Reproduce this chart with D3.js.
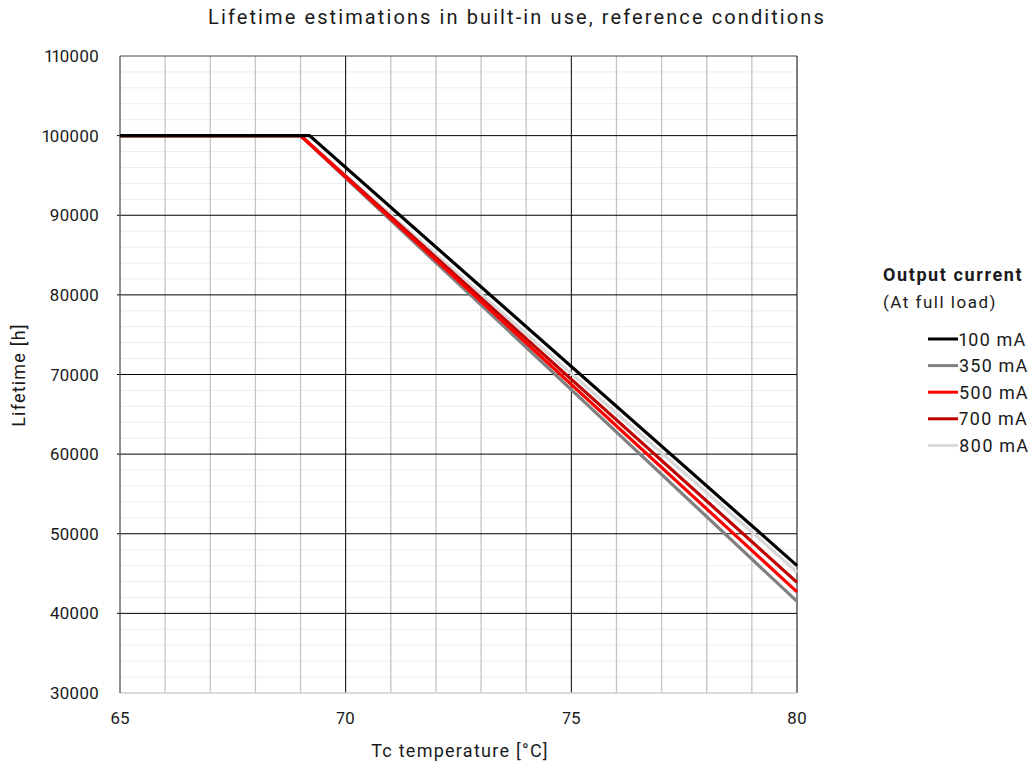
<!DOCTYPE html>
<html><head><meta charset="utf-8">
<script src="https://cdn.jsdelivr.net/npm/d3@7"></script>
<style>body{margin:0;background:#fff;} text{font-family:Roboto,"Noto Sans",sans-serif;fill:#1a1a1a;font-variant-numeric:proportional-nums;}</style>
</head><body><svg id="c" width="1035" height="769"></svg>
<script>
const seriesNames = ["800 mA","350 mA","700 mA","500 mA","100 mA"];
const seriesColors = ["#d9d9d9","#808080","#c00000","#ff0000","#000000"];
const seriesTemps = [[65,69.0,80],[65,69.0,80],[65,69.0,80],[65,69.0,80],[65,69.2,80]];
const seriesLife = [[100000,100000,45200],[100000,100000,41500],[100000,100000,43900],[100000,100000,42700],[100000,100000,46000]];
const legendOrder = ["100 mA","350 mA","500 mA","700 mA","800 mA"];
const xTicks = [65,70,75,80];
const yTicks = [30000,40000,50000,60000,70000,80000,90000,100000,110000];

const svg = d3.select("#c");
const x = d3.scaleLinear().domain([65,80]).range([120,797]);
const y = d3.scaleLinear().domain([30000,110000]).range([693,56]);

// minor horizontal grid
svg.append("g").selectAll("line").data(d3.range(30000,110001,2000).filter(v=>v%10000)).join("line")
  .attr("x1",x(65)).attr("x2",x(80)).attr("y1",d=>y(d)).attr("y2",d=>y(d))
  .attr("stroke","#ececec").attr("stroke-width",1);
// minor vertical grid
svg.append("g").selectAll("line").data(d3.range(66,80).filter(v=>v%5)).join("line")
  .attr("x1",d=>x(d)).attr("x2",d=>x(d)).attr("y1",y(30000)).attr("y2",y(110000))
  .attr("stroke","#c4c4c4").attr("stroke-width",1.3);
// major horizontal
svg.append("g").selectAll("line").data(yTicks.filter(v=>v>30000 && v<110000)).join("line")
  .attr("x1",x(65)-3).attr("x2",x(80)).attr("y1",d=>y(d)).attr("y2",d=>y(d))
  .attr("stroke","#000").attr("stroke-width",1);
// major vertical
svg.append("g").selectAll("line").data([70,75]).join("line")
  .attr("x1",d=>x(d)).attr("x2",d=>x(d)).attr("y1",y(30000)).attr("y2",y(110000))
  .attr("stroke","#000").attr("stroke-width",1);
// frame
svg.append("line").attr("x1",x(65)).attr("x2",x(80)).attr("y1",y(110000)).attr("y2",y(110000)).attr("stroke","#444").attr("stroke-width",1);
svg.append("line").attr("x1",x(80)).attr("x2",x(80)).attr("y1",y(30000)).attr("y2",y(110000)).attr("stroke","#000").attr("stroke-width",1);
svg.append("line").attr("x1",x(65)).attr("x2",x(80)).attr("y1",y(30000)).attr("y2",y(30000)).attr("stroke","#cfcfcf").attr("stroke-width",1.3);
svg.append("line").attr("x1",x(65)).attr("x2",x(65)).attr("y1",y(30000)).attr("y2",y(110000)).attr("stroke","#555").attr("stroke-width",1.3);

// lines
const line = d3.line().x(d=>x(d[0])).y(d=>y(d[1]));
seriesNames.forEach((n,i)=>{
  const pts = seriesTemps[i].map((t,j)=>[t,seriesLife[i][j]]);
  svg.append("path").attr("d",line(pts)).attr("fill","none")
    .attr("stroke",seriesColors[i]).attr("stroke-width",3.2);
});

// axes labels
svg.append("g").selectAll("text").data(yTicks).join("text")
  .attr("x",99).attr("y",d=>y(d)+6).attr("text-anchor","end").attr("font-size",17).text(d=>d);
svg.append("g").selectAll("text").data(xTicks).join("text")
  .attr("x",d=>x(d)).attr("y",724).attr("text-anchor","middle").attr("font-size",17).text(d=>d);
svg.append("text").attr("x",460).attr("y",757).attr("text-anchor","middle").attr("font-size",18).attr("letter-spacing",1.25).text("Tc temperature [°C]");
svg.append("text").attr("transform","translate(25,375) rotate(-90)").attr("text-anchor","middle").attr("font-size",18).attr("letter-spacing",1.2).text("Lifetime [h]");
svg.append("text").attr("x",517).attr("y",24).attr("text-anchor","middle").attr("font-size",20).attr("letter-spacing",2.1).text("Lifetime estimations in built-in use, reference conditions");

// legend
svg.append("text").attr("x",883).attr("y",281).attr("font-size",18).attr("font-weight","bold").attr("letter-spacing",1.6).text("Output current");
svg.append("text").attr("x",883).attr("y",308).attr("font-size",17).attr("letter-spacing",1.5).text("(At full load)");
legendOrder.forEach((n,k)=>{
  const i = seriesNames.indexOf(n);
  const yy = 339 + k*26.6;
  svg.append("line").attr("x1",928).attr("x2",958).attr("y1",yy).attr("y2",yy)
    .attr("stroke",seriesColors[i]).attr("stroke-width",3);
  svg.append("text").attr("x",959).attr("y",yy+6.5).attr("font-size",18).attr("letter-spacing",1.1).text(n);
});
</script></body></html>
